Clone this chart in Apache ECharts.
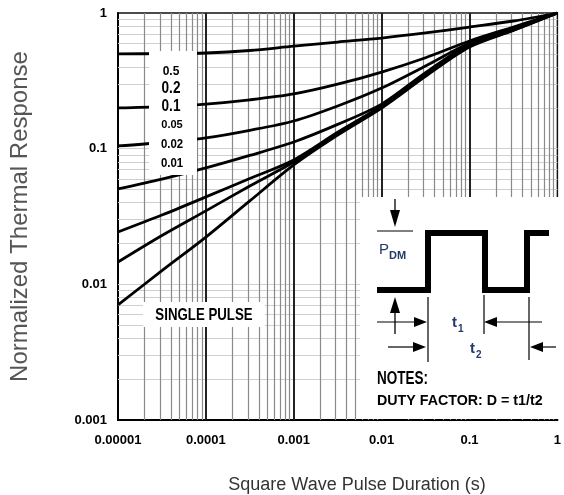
<!DOCTYPE html>
<html>
<head>
<meta charset="utf-8">
<script src="https://cdn.jsdelivr.net/npm/echarts@6/dist/echarts.min.js"></script>
<style>
html,body{margin:0;padding:0;background:#fff;}
#chart{width:564px;height:495px;}
</style>
</head>
<body>
<div id="chart"></div>
<script>
// ---- data ----
const pulseDuration = [1e-5, 3.16e-5, 1e-4, 3.16e-4, 1e-3, 3.16e-3, 1e-2, 3.16e-2, 1e-1, 3.16e-1, 1];
const dutyLabels = ['0.5', '0.2', '0.1', '0.05', '0.02', '0.01', 'Single Pulse'];
const zD050 = [0.500, 0.502, 0.507, 0.529, 0.570, 0.611, 0.654, 0.713, 0.788, 0.873, 1.0];
const zD020 = [0.1995, 0.204, 0.213, 0.229, 0.253, 0.2985, 0.367, 0.468, 0.622, 0.789, 1.0];
const zD010 = [0.1047, 0.111, 0.120, 0.1365, 0.160, 0.2065, 0.280, 0.407, 0.601, 0.774, 1.0];
const zD005 = [0.0505, 0.0596, 0.0721, 0.0891, 0.112, 0.151, 0.213, 0.363, 0.592, 0.762, 1.0];
const zD002 = [0.0243, 0.0324, 0.0441, 0.0603, 0.0826, 0.132, 0.2065, 0.351, 0.581, 0.758, 1.0];
const zD001 = [0.0146, 0.0229, 0.0348, 0.0531, 0.0798, 0.129, 0.203, 0.347, 0.571, 0.750, 1.0];
const zSingle = [0.00705, 0.0126, 0.0223, 0.0412, 0.0759, 0.126, 0.1995, 0.341, 0.561, 0.745, 1.0];
const xTickLabels = ['0.00001', '0.0001', '0.001', '0.01', '0.1', '1'];
const yTickLabels = ['0.001', '0.01', '0.1', '1'];
const xDecades = [1e-5, 1e-4, 1e-3, 1e-2, 1e-1, 1];
const yDecades = [1e-3, 1e-2, 1e-1, 1];
const minorSteps = [2, 3, 4, 5, 6, 7, 8, 9];

const curves = [zD050, zD020, zD010, zD005, zD002, zD001, zSingle];
const xMin = xDecades[0], xMax = xDecades[xDecades.length - 1];
const yMin = yDecades[0], yMax = yDecades[yDecades.length - 1];

const chart = echarts.init(document.getElementById('chart'), null, {renderer: 'canvas'});

const vMinor = [], vMajor = [], hMinor = [];
xDecades.slice(0, -1).forEach(d => minorSteps.forEach(k => vMinor.push({coords: [[k * d, yMin], [k * d, yMax]]})));
xDecades.slice(1, -1).forEach(d => vMajor.push({coords: [[d, yMin], [d, yMax]]}));
yDecades.slice(0, -1).forEach(d => minorSteps.forEach(k => hMinor.push({coords: [[xMin, k * d], [xMax, k * d]]})));
yDecades.slice(1, -1).forEach(d => hMinor.push({coords: [[xMin, d], [xMax, d]]}));

function gridLines(data, color, width, z) {
  return {type: 'lines', coordinateSystem: 'cartesian2d', polyline: false, silent: true, z: z,
    data: data, symbol: ['none', 'none'], effect: {show: false},
    lineStyle: {color: color, width: width, opacity: 1, curveness: 0}};
}

const curveSeries = curves.map((arr, i) => ({
  type: 'line', name: dutyLabels[i], z: 3,
  data: pulseDuration.map((x, j) => [x, arr[j]]),
  symbol: 'none', smooth: 0.3,
  lineStyle: {color: '#000', width: 2.8, join: 'round'}
}));

const navy = '#23396b';
const sans = "'Liberation Sans',Arial,sans-serif";
function txt(text, x, y, font, style, sx) {
  return {type: 'text', x: x, y: y, z: 110, scaleX: sx || 1,
    style: Object.assign({text: text, font: font, fill: '#000', align: 'left', verticalAlign: 'middle'}, style || {})};
}
function line(x1, y1, x2, y2, w) {
  return {type: 'line', z: 110, shape: {x1, y1, x2, y2}, style: {stroke: '#000', lineWidth: w || 1.2}};
}
function poly(points) {
  return {type: 'polygon', z: 110, shape: {points}, style: {fill: '#000'}};
}
const C = {align: 'center'};

const graphics = [
  // duty-factor label box
  {type: 'rect', z: 100, shape: {x: 149, y: 51, width: 48, height: 124}, style: {fill: '#fff'}},
  txt('0.5', 171, 72, "bold 12px " + sans, C),
  txt('0.2', 171, 89, "bold 16px " + sans, C, 0.85),
  txt('0.1', 171, 107, "bold 16px " + sans, C, 0.85),
  txt('0.05', 172, 125, "bold 11px " + sans, C),
  txt('0.02', 172, 145, "bold 12px " + sans, C, 0.95),
  txt('0.01', 172, 164, "bold 12px " + sans, C, 0.95),
  // single pulse box
  {type: 'rect', z: 100, shape: {x: 143, y: 302, width: 122, height: 25}, style: {fill: '#fff'}},
  txt('SINGLE PULSE', 204, 315, "bold 17px " + sans, C, 0.78),
  // notes inset
  {type: 'rect', z: 100, shape: {x: 360, y: 197, width: 199, height: 222}, style: {fill: '#fff'}},
  {type: 'polyline', z: 110, shape: {points: [[377, 290], [428, 290], [428, 233], [485, 233], [485, 290], [527, 290], [527, 233], [549, 233]]},
    style: {stroke: '#000', lineWidth: 6, lineJoin: 'miter', fill: null}},
  line(395, 199, 395, 212, 1.3), poly([[390, 210], [400, 210], [395, 227]]),
  line(377, 231, 413, 231, 1.2),
  txt('P', 379, 250, "15px " + sans, {fill: navy}),
  txt('DM', 389, 256, "bold 11px " + sans, {fill: navy}),
  poly([[390, 313], [400, 313], [395, 297]]), line(395, 312, 395, 334, 1.3),
  line(377, 322, 416, 322, 1.2), poly([[414, 317], [414, 327], [427, 322]]),
  line(428, 297, 428, 362, 1.2),
  line(484, 295, 484, 334, 1.2),
  poly([[497, 317], [497, 327], [484, 322]]), line(495, 322, 542, 322, 1.2),
  line(529, 297, 529, 360, 1.2),
  txt('t', 452, 323, "bold 15px " + sans, {fill: navy}),
  txt('1', 458, 329, "bold 10px " + sans, {fill: navy}),
  line(388, 347, 415, 347, 1.2), poly([[413, 342], [413, 352], [426, 347]]),
  poly([[543, 342], [543, 352], [530, 347]]), line(541, 347, 556, 347, 1.2),
  txt('t', 470, 349, "bold 15px " + sans, {fill: navy}),
  txt('2', 476, 355, "bold 10px " + sans, {fill: navy}),
  txt('NOTES:', 377, 379, "bold 18px " + sans, null, 0.75),
  txt('DUTY FACTOR: D = t1/t2', 377, 401, "bold 15px " + sans, null, 0.95),
  // x axis title
  txt('Square Wave Pulse Duration (s)', 357, 485, "18px " + sans, {align: 'center', fill: '#333'})
];

const option = {
  animation: false,
  backgroundColor: '#fff',
  grid: {left: 118, top: 13, width: 445, height: 407, show: true, borderColor: '#111', borderWidth: 1.5, containLabel: false},
  xAxis: {
    type: 'log', logBase: 10, min: xMin, max: xMax,
    axisLine: {show: true, lineStyle: {color: '#000', width: 2}},
    axisTick: {show: false},
    splitLine: {show: false},
    axisLabel: {
      margin: 14, color: '#000', fontSize: 13, fontWeight: 'bold', fontFamily: sans,
      formatter: v => xTickLabels[Math.round(Math.log10(v)) + 5]
    }
  },
  yAxis: {
    type: 'log', logBase: 10, min: yMin, max: yMax,
    name: 'Normalized Thermal Response', nameLocation: 'middle', nameRotate: 90, nameGap: 86,
    nameTextStyle: {fontSize: 24, color: '#555', fontFamily: sans},
    axisLine: {show: true, lineStyle: {color: '#000', width: 2}},
    axisTick: {show: false},
    splitLine: {show: false},
    axisLabel: {
      margin: 11, color: '#000', fontSize: 13, fontWeight: 'bold', fontFamily: sans,
      formatter: v => yTickLabels[Math.round(Math.log10(v)) + 3]
    }
  },
  series: [
    gridLines(hMinor, '#cfcfcf', 1.2, 1),
    gridLines(vMinor, '#8a8a8a', 1.2, 1),
    gridLines(vMajor, '#222', 2, 1)
  ].concat(curveSeries),
  graphic: {elements: graphics}
};
chart.setOption(option);
</script>
</body>
</html>
